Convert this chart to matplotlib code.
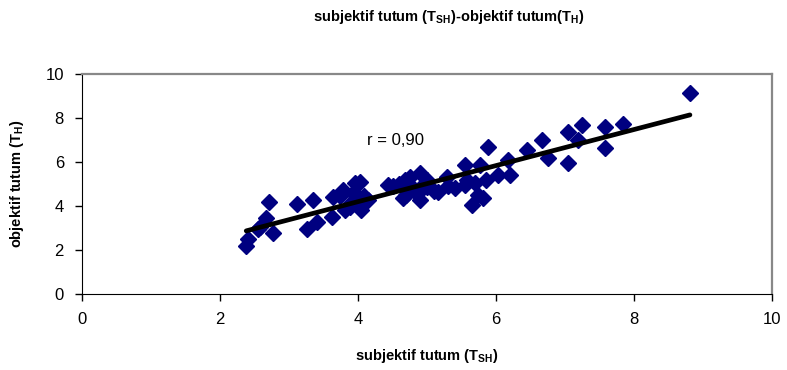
import numpy as np
import matplotlib
matplotlib.use("Agg")
import matplotlib.pyplot as plt

plt.rcParams['font.family'] = ['Liberation Sans', 'DejaVu Sans']
plt.rcParams['mathtext.fontset'] = 'custom'
plt.rcParams['mathtext.rm'] = 'Liberation Sans'
plt.rcParams['mathtext.bf'] = 'Liberation Sans:bold'
plt.rcParams['mathtext.default'] = 'bf'

# subjektif tutum (T_SH) scores
t_sh = [2.38, 2.41, 2.58, 2.55, 2.67, 2.71, 2.77, 3.11, 3.26, 3.35,
        3.41, 3.63, 3.64, 3.78, 3.81, 3.96, 4.03, 3.93, 4.05, 3.90,
        4.00, 4.09, 4.14, 3.74, 3.88, 4.43, 4.60, 4.65, 4.68, 4.75,
        4.80, 4.90, 4.90, 5.00, 4.85, 5.00, 5.16, 5.29, 5.30, 5.40,
        5.55, 5.58, 5.55, 5.65, 5.70, 5.74, 5.77, 5.88, 5.81, 5.85,
        6.03, 6.17, 6.20, 6.45, 6.67, 6.75, 7.04, 7.04, 7.19, 7.25,
        7.58, 7.58, 7.84, 8.81, 4.50, 4.70, 4.95, 5.10]
# objektif tutum (T_H) scores
t_h = [2.18, 2.50, 3.06, 2.95, 3.45, 4.20, 2.77, 4.09, 2.95, 4.27,
       3.27, 3.50, 4.42, 4.73, 3.82, 5.05, 5.10, 4.60, 3.82, 4.15,
       4.40, 4.45, 4.27, 4.45, 3.95, 4.95, 5.00, 4.36, 5.18, 5.30,
       4.80, 5.50, 4.27, 4.86, 4.55, 5.20, 4.64, 5.32, 4.90, 4.80,
       5.86, 5.18, 4.95, 4.05, 5.05, 4.50, 5.86, 6.70, 4.36, 5.20,
       5.41, 6.09, 5.41, 6.55, 7.00, 6.18, 7.38, 5.97, 7.00, 7.68,
       7.60, 6.65, 7.72, 9.13, 4.90, 4.50, 5.00, 4.70]

x_ticks = [0, 2, 4, 6, 8, 10]
y_ticks = [0, 2, 4, 6, 8, 10]
r_label = "r = 0,90"

x = np.array(t_sh)
y = np.array(t_h)

fig = plt.figure(figsize=(7.87, 3.70), dpi=100)
ax = fig.add_axes([0.1042, 0.2054, 0.8768, 0.5946])

ax.plot(x, y, linestyle='none', marker='D', markersize=8,
        color='#000080', markeredgecolor='#000080', zorder=2)

# least-squares trend line over the data range
slope, intercept = np.polyfit(x, y, 1)
xl = np.array([x.min(), x.max()])
ax.plot(xl, slope * xl + intercept, color='black', linewidth=3.4,
        solid_capstyle='round', zorder=3)

ax.text(4.13, 7.0, r_label, fontsize=12, ha='left', va='center')

ax.set_xlim(0, 10)
ax.set_ylim(0, 10)
ax.set_xticks(x_ticks)
ax.set_yticks(y_ticks)
ax.tick_params(axis='both', direction='out', length=5, width=1,
               labelsize=12, pad=8)

ax.spines['left'].set_color('black')
ax.spines['bottom'].set_color('black')
ax.spines['top'].set_color('#888888')
ax.spines['right'].set_color('#888888')
ax.spines['top'].set_linewidth(1.6)
ax.spines['right'].set_linewidth(1.6)

ax.set_xlabel(r"subjektif tutum (T$_{SH}$)", fontsize=10.5,
              fontweight='bold', labelpad=14)
ax.set_ylabel(r"objektif tutum (T$_{H}$)", fontsize=10.5,
              fontweight='bold', labelpad=14)

fig.text(0.57, 0.954, r"subjektif tutum (T$_{SH}$)-objektif tutum(T$_{H}$)",
         fontsize=10.5, fontweight='bold', ha='center', va='center')

fig.savefig("out.png", dpi=100)
